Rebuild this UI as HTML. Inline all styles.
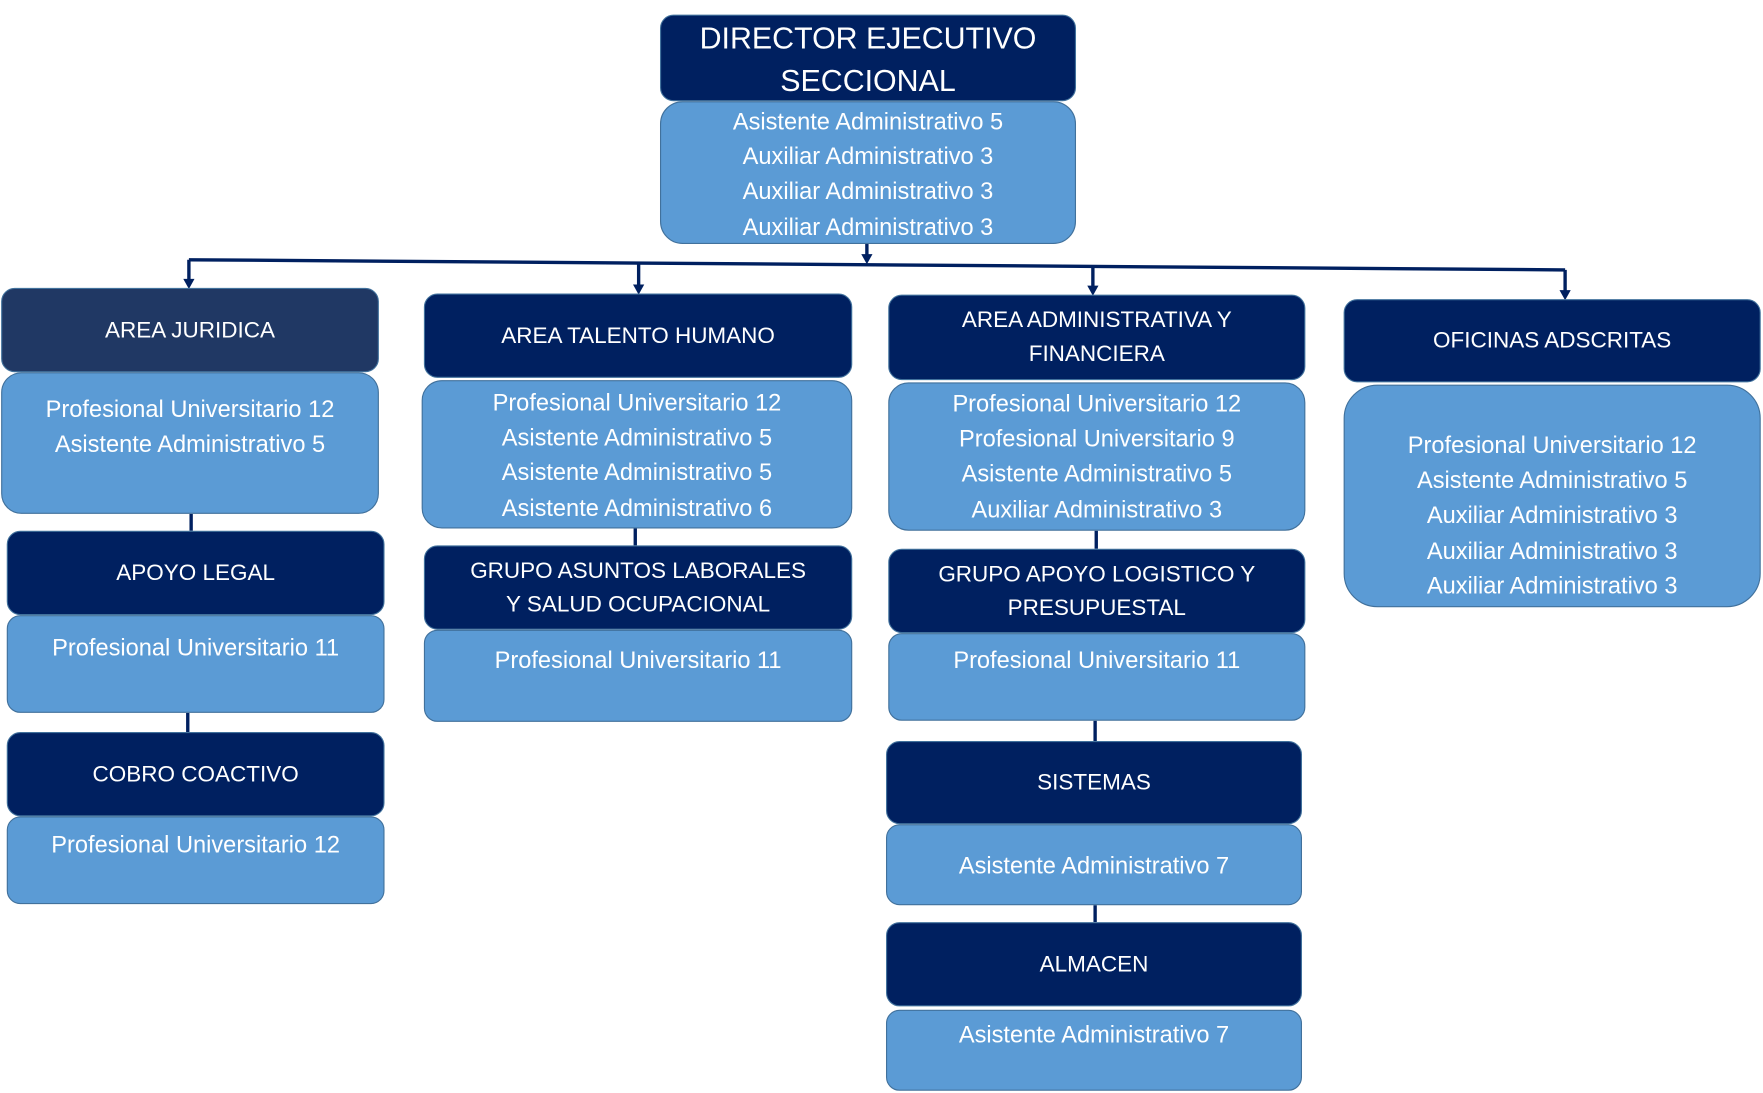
<!DOCTYPE html>
<html><head><meta charset="utf-8"><style>
html,body{margin:0;padding:0;background:#fff;width:1763px;height:1093px;overflow:hidden}
#w{position:absolute;left:0;top:0;width:1568px;height:972px;transform:scale(1.12436,1.1245);transform-origin:0 0}
.b{position:absolute;box-sizing:border-box;border:1.5px solid #41719c;border-radius:12px;color:#fff;font-family:"Liberation Sans",sans-serif;text-align:center}
.d{background:#002060;font-size:20px;display:flex;align-items:center;justify-content:center;line-height:30px}
.l{background:#5b9bd5;font-size:21px;line-height:31.2px}
svg{position:absolute;left:0;top:0}
</style></head><body><div id="w">
<svg width="1568" height="972">
<g stroke="#002060" stroke-width="3" fill="none">
<line x1="771" y1="217" x2="771" y2="230"/>
<line x1="168" y1="231" x2="1392" y2="240"/>
<line x1="168" y1="231" x2="168" y2="250"/>
<line x1="568" y1="234" x2="568" y2="255"/>
<line x1="972" y1="237" x2="972" y2="256"/>
<line x1="1392" y1="240" x2="1392" y2="260"/>
<line x1="170" y1="457" x2="170" y2="472"/>
<line x1="167" y1="634" x2="167" y2="651"/>
<line x1="565" y1="470" x2="565" y2="485"/>
<line x1="975" y1="472" x2="975" y2="488"/>
<line x1="974" y1="641" x2="974" y2="659"/>
<line x1="974" y1="805" x2="974" y2="820"/>
</g>
<g fill="#002060">
<polygon points="766,226 776,226 771,235"/>
<polygon points="163,248 173,248 168,257"/>
<polygon points="563,253 573,253 568,262"/>
<polygon points="967,254 977,254 972,263"/>
<polygon points="1387,258 1397,258 1392,267"/>
</g>
</svg>

<div class="b d" style="left:587px;top:13px;width:370px;height:77px;font-size:27px;line-height:38px;padding-top:2px">DIRECTOR EJECUTIVO<br>SECCIONAL</div>
<div class="b l" style="left:587px;top:90px;width:370px;height:127px;padding-top:2px;border-radius:20px">Asistente Administrativo 5<br>Auxiliar Administrativo 3<br>Auxiliar Administrativo 3<br>Auxiliar Administrativo 3</div>

<div class="b d" style="left:1px;top:256px;width:336px;height:75px;background:#203864">AREA JURIDICA</div>
<div class="b l" style="left:1px;top:331px;width:336px;height:126px;padding-top:17px;border-radius:18px">Profesional Universitario 12<br>Asistente Administrativo 5</div>
<div class="b d" style="left:6px;top:472px;width:336px;height:75px">APOYO LEGAL</div>
<div class="b l" style="left:6px;top:547px;width:336px;height:87px;padding-top:13px">Profesional Universitario 11</div>
<div class="b d" style="left:6px;top:651px;width:336px;height:75px">COBRO COACTIVO</div>
<div class="b l" style="left:6px;top:726px;width:336px;height:78px;padding-top:9px">Profesional Universitario 12</div>

<div class="b d" style="left:377px;top:261px;width:381px;height:75px">AREA TALENTO HUMANO</div>
<div class="b l" style="left:375px;top:338px;width:383px;height:132px;padding-top:4px;border-radius:18px">Profesional Universitario 12<br>Asistente Administrativo 5<br>Asistente Administrativo 5<br>Asistente Administrativo 6</div>
<div class="b d" style="left:377px;top:485px;width:381px;height:75px">GRUPO ASUNTOS LABORALES<br>Y SALUD OCUPACIONAL</div>
<div class="b l" style="left:377px;top:560px;width:381px;height:82px;padding-top:11px">Profesional Universitario 11</div>

<div class="b d" style="left:790px;top:262px;width:371px;height:76px">AREA ADMINISTRATIVA Y<br>FINANCIERA</div>
<div class="b l" style="left:790px;top:340px;width:371px;height:132px;padding-top:3px;border-radius:18px">Profesional Universitario 12<br>Profesional Universitario 9<br>Asistente Administrativo 5<br>Auxiliar Administrativo 3</div>
<div class="b d" style="left:790px;top:488px;width:371px;height:75px">GRUPO APOYO LOGISTICO Y<br>PRESUPUESTAL</div>
<div class="b l" style="left:790px;top:563px;width:371px;height:78px;padding-top:8px">Profesional Universitario 11</div>
<div class="b d" style="left:788px;top:659px;width:370px;height:74px">SISTEMAS</div>
<div class="b l" style="left:788px;top:733px;width:370px;height:72px;padding-top:21px">Asistente Administrativo 7</div>
<div class="b d" style="left:788px;top:820px;width:370px;height:75px">ALMACEN</div>
<div class="b l" style="left:788px;top:898px;width:370px;height:72px;padding-top:6px">Asistente Administrativo 7</div>

<div class="b d" style="left:1195px;top:266px;width:371px;height:74px">OFICINAS ADSCRITAS</div>
<div class="b l" style="left:1195px;top:342px;width:371px;height:198px;padding-top:38px;border-radius:30px">Profesional Universitario 12<br>Asistente Administrativo 5<br>Auxiliar Administrativo 3<br>Auxiliar Administrativo 3<br>Auxiliar Administrativo 3</div>
</div></body></html>
